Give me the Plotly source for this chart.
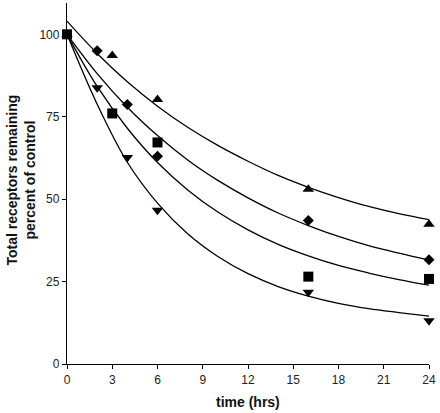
import plotly.graph_objects as go

# Measured data points (time in hrs, percent of control)
t_up = [0, 3, 6, 16, 24]
y_up = [100, 93.6, 80.2, 53.0, 42.4]

t_diamond = [2, 4, 6, 16, 24]
y_diamond = [95.0, 78.7, 63.0, 43.5, 31.6]

t_square = [0, 3, 6, 16, 24]
y_square = [100, 76.0, 67.2, 26.5, 25.8]

t_down = [2, 4, 6, 16, 24]
y_down = [83.8, 62.6, 46.6, 21.8, 13.1]

# Fitted curves, values
t_curve = [0, 2, 4, 6, 8, 10, 12, 14, 16, 18, 20, 22, 24]
curve_up = [104, 94.2, 85.6, 78.2, 71.8, 66.3, 61.5, 57.2, 53.6, 50.5, 47.8, 45.6, 43.8]
curve_diamond = [100, 88.1, 77.9, 69.3, 61.9, 55.7, 50.4, 45.8, 42.0, 38.7, 35.9, 33.6, 31.5]
curve_square = [100, 84.2, 71.5, 61.1, 52.8, 46.1, 40.7, 36.3, 32.8, 29.9, 27.6, 25.6, 23.9]
curve_down = [100, 78.8, 61.2, 48.8, 39.5, 32.6, 27.4, 23.5, 20.6, 18.4, 16.8, 15.6, 14.5]

x_ticks = [0, 3, 6, 9, 12, 15, 18, 21, 24]
y_ticks = [0, 25, 50, 75, 100]

fig = go.Figure()

for c in [curve_up, curve_diamond, curve_square, curve_down]:
    fig.add_trace(go.Scatter(x=t_curve, y=c, mode="lines",
                             line=dict(color="black", width=1.3, shape="spline", smoothing=1.0),
                             hoverinfo="skip", showlegend=False))

fig.add_trace(go.Scatter(x=t_up, y=y_up, mode="markers", cliponaxis=False,
                         marker=dict(symbol="triangle-up", size=10, color="black"), showlegend=False))
fig.add_trace(go.Scatter(x=t_diamond, y=y_diamond, mode="markers", cliponaxis=False,
                         marker=dict(symbol="diamond", size=8.5, color="black"), showlegend=False))
fig.add_trace(go.Scatter(x=t_down, y=y_down, mode="markers", cliponaxis=False,
                         marker=dict(symbol="triangle-down", size=10, color="black"), showlegend=False))
fig.add_trace(go.Scatter(x=t_square, y=y_square, mode="markers", cliponaxis=False,
                         marker=dict(symbol="square", size=10, color="black"), showlegend=False))

font_family = "Liberation Sans, Arial, sans-serif"

fig.update_layout(
    width=440, height=413,
    margin=dict(l=67, r=11, t=3, b=49),
    paper_bgcolor="white", plot_bgcolor="white",
    font=dict(family=font_family, color="#222222", size=12),
    xaxis=dict(range=[0, 24], tickvals=x_ticks, ticks="outside", ticklen=4,
               showline=True, linecolor="black", linewidth=1.3, showgrid=False,
               zeroline=False, tickcolor="black", tickfont=dict(size=12, color="#222222")),
    yaxis=dict(range=[0, 109.5], tickvals=y_ticks, ticks="outside", ticklen=4,
               showline=True, linecolor="black", linewidth=1.3, showgrid=False,
               zeroline=False, tickcolor="black", tickfont=dict(size=12, color="#222222")),
    annotations=[
        dict(text="<b>time (hrs)</b>", xref="paper", yref="paper", x=0.5, y=-0.105,
             xanchor="center", yanchor="middle", showarrow=False,
             font=dict(size=14, color="#111111", family=font_family)),
        dict(text="<b>Total receptors remaining<br>percent of control</b>", xref="paper", yref="paper",
             x=-0.128, y=0.51, xanchor="center", yanchor="middle", textangle=-90, showarrow=False,
             font=dict(size=14, color="#111111", family=font_family)),
    ],
)

fig.write_html("out.html", config={"displayModeBar": False},
               post_script="document.body.style.margin='0';document.body.style.padding='0';")
